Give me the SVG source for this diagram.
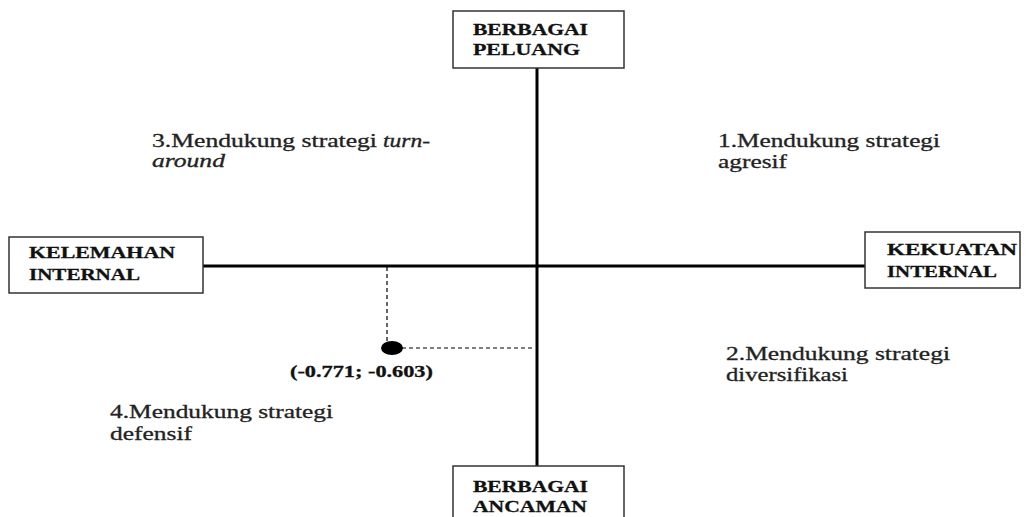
<svg xmlns="http://www.w3.org/2000/svg" width="1027" height="517" viewBox="0 0 1027 517">
<style>
.box{fill:#fff;stroke:#333;stroke-width:1.5}
.bl{font-family:"Liberation Serif","Times New Roman",serif;font-weight:bold;font-size:16px;fill:#111;stroke:#111;stroke-width:0.3}
.tx{font-family:"Liberation Serif","Times New Roman",serif;font-size:18.5px;fill:#222;stroke:#222;stroke-width:0.3}
.it{font-style:italic}
.axis{stroke:#000;stroke-width:3;fill:none}
.dash{stroke:#000;stroke-width:1.2;stroke-dasharray:4,3;fill:none}
</style>
<rect width="1027" height="517" fill="#fff"/>
<g id="connectors">
<line class="axis" x1="537" y1="68" x2="537" y2="466"/>
<line class="axis" x1="203" y1="266" x2="865" y2="266"/>
<line class="dash" x1="387" y1="267" x2="387" y2="344"/>
<line class="dash" x1="402" y1="348" x2="533" y2="348"/>
</g>
<g id="node-peluang">
<rect class="box" x="453" y="11" width="171" height="57"/>
<text class="bl" transform="translate(473 35) scale(1.4 1)" textLength="82.1" lengthAdjust="spacingAndGlyphs">BERBAGAI</text>
<text class="bl" transform="translate(473 55) scale(1.4 1)" textLength="76.4" lengthAdjust="spacingAndGlyphs">PELUANG</text>
</g>
<g id="node-kelemahan">
<rect class="box" x="9" y="237" width="194" height="56"/>
<text class="bl" transform="translate(29 258) scale(1.4 1)" textLength="104.3" lengthAdjust="spacingAndGlyphs">KELEMAHAN</text>
<text class="bl" transform="translate(29 280) scale(1.4 1)" textLength="79.3" lengthAdjust="spacingAndGlyphs">INTERNAL</text>
</g>
<g id="node-kekuatan">
<rect class="box" x="865" y="232" width="155" height="56"/>
<text class="bl" transform="translate(887 255) scale(1.4 1)" textLength="92.9" lengthAdjust="spacingAndGlyphs">KEKUATAN</text>
<text class="bl" transform="translate(887 277) scale(1.4 1)" textLength="78.6" lengthAdjust="spacingAndGlyphs">INTERNAL</text>
</g>
<g id="node-ancaman">
<rect class="box" x="453" y="466" width="171" height="60"/>
<text class="bl" transform="translate(473 492) scale(1.4 1)" textLength="82.1" lengthAdjust="spacingAndGlyphs">BERBAGAI</text>
<text class="bl" transform="translate(473 512) scale(1.4 1)" textLength="81.4" lengthAdjust="spacingAndGlyphs">ANCAMAN</text>
</g>
<g id="point">
<ellipse cx="392" cy="348" rx="11" ry="7" fill="#000"/>
<text class="bl" transform="translate(290 377) scale(1.4 1)" textLength="102.1" lengthAdjust="spacingAndGlyphs">(-0.771; -0.603)</text>
</g>
<g id="quadrant-1">
<text class="tx" transform="translate(718 147) scale(1.4 1)" textLength="158.6" lengthAdjust="spacingAndGlyphs">1.Mendukung strategi</text>
<text class="tx" transform="translate(718 168) scale(1.4 1)" textLength="49.3" lengthAdjust="spacingAndGlyphs">agresif</text>
</g>
<g id="quadrant-3">
<text class="tx" transform="translate(152 147) scale(1.4 1)" textLength="160.7" lengthAdjust="spacingAndGlyphs">3.Mendukung strategi</text>
<text class="tx it" transform="translate(383 147) scale(1.4 1)" textLength="33.6" lengthAdjust="spacingAndGlyphs">turn-</text>
<text class="tx it" transform="translate(152 167) scale(1.4 1)" textLength="52.1" lengthAdjust="spacingAndGlyphs">around</text>
</g>
<g id="quadrant-2">
<text class="tx" transform="translate(726 360) scale(1.4 1)" textLength="160" lengthAdjust="spacingAndGlyphs">2.Mendukung strategi</text>
<text class="tx" transform="translate(726 381) scale(1.4 1)" textLength="87.1" lengthAdjust="spacingAndGlyphs">diversifikasi</text>
</g>
<g id="quadrant-4">
<text class="tx" transform="translate(110 418) scale(1.4 1)" textLength="159.3" lengthAdjust="spacingAndGlyphs">4.Mendukung strategi</text>
<text class="tx" transform="translate(110 440) scale(1.4 1)" textLength="58.6" lengthAdjust="spacingAndGlyphs">defensif</text>
</g>
</svg>
